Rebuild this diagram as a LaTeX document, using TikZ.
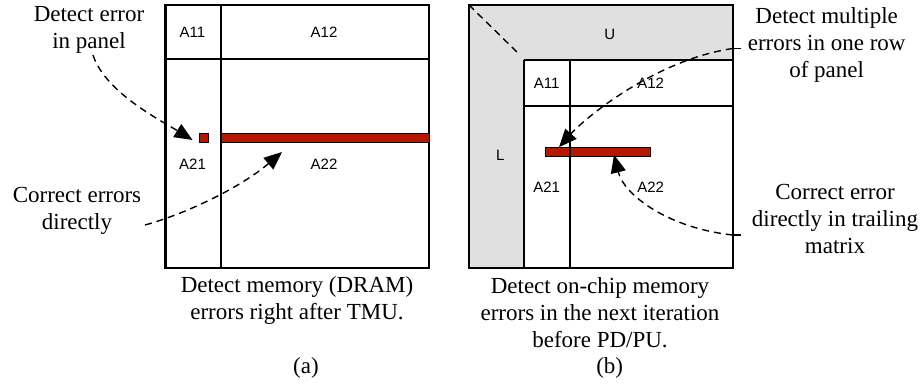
\documentclass[tikz,border=0pt]{standalone}
\usepackage{fontspec}
\setmainfont{Liberation Serif}
\newfontfamily\lblfont{Liberation Sans}
\usetikzlibrary{arrows.meta}
\definecolor{errred}{RGB}{180,24,0}
\definecolor{panelgray}{RGB}{224,224,224}
\tikzset{
  note/.style={inner sep=0pt, align=center, font=\fontsize{23}{27}\selectfont},
  blk/.style={inner sep=0pt, font=\lblfont\fontsize{15}{16}\selectfont},
  outer/.style={line width=2.3pt},
  part/.style={line width=2pt},
  errbox/.style={draw=black, line width=1pt, fill=errred, inner sep=0pt},
  darrow/.style={line width=1.4pt, dash pattern=on 7pt off 5pt, -{Triangle[length=18pt,width=15pt]}},
  tick/.style={line width=1.4pt}
}
\begin{document}
\begin{tikzpicture}[x=1pt,y=-1pt]
\useasboundingbox (0,0) rectangle (922,386);
% ---------------- panel (a)
\draw[outer] (165.5,4.7) rectangle (429,267.7);
\draw[part] (220.5,4.7) -- (220.5,267.7);
\draw[outer] (165.5,59) -- (429,59);
\node[blk] (a11) at (192.5,32) {A11};
\node[blk] (a12) at (324,32.5) {A12};
\node[blk] (a21) at (192.5,164.7) {A21};
\node[blk] (a22) at (324,164.7) {A22};
\node[errbox, minimum width=9.5pt, minimum height=9.5pt] (sqA) at (203.8,138) {};
\node[errbox, minimum width=208pt, minimum height=9pt] (barA) at (325,138) {};
\node[note] (detA) at (89,30) {Detect error\\in panel};
\node[note] (corA) at (77,210.5) {Correct errors\\directly};
\node[note] (capA) at (297,300.5) {Detect memory (DRAM)\\errors right after TMU.};
\node[note] (labA) at (306,368) {(a)};
\coordinate (detAs) at (93,55);
\coordinate (corAs) at (145,225);
\coordinate (tipA2) at (282,152);
\draw[darrow] (detAs) .. controls (105,92) and (160,120) .. ([xshift=-6pt,yshift=-2pt]sqA.west);
\draw[darrow] (corAs) .. controls (185,214) and (240,188) .. (tipA2);
% ---------------- panel (b)
\fill[panelgray] (469,4.7) rectangle (732.7,267.7);
\fill[white] (523.7,59.7) rectangle (732.7,267.7);
\node[errbox, minimum width=104.7pt, minimum height=9pt] (barB) at (598.3,152.2) {};
\draw[outer] (469,4.7) rectangle (732.7,267.7);
\draw[outer] (523.7,59.7) -- (732.7,59.7);
\draw[outer] (523.7,59.7) -- (523.7,267.7);
\draw[part] (570.3,59.7) -- (570.3,267.7);
\draw[part] (523.7,106.3) -- (732.7,106.3);
\node[blk] (u) at (609.7,34.3) {U};
\node[blk] (l) at (500.3,155) {L};
\node[blk] (b11) at (546.7,83.3) {A11};
\node[blk] (b12) at (650.7,83.3) {A12};
\node[blk] (b21) at (546.7,187.7) {A21};
\node[blk] (b22) at (650.7,187.7) {A22};
\coordinate (cornerB) at (469,5);
\coordinate (innerB) at (520,55);
\draw[line width=1.4pt, dash pattern=on 7pt off 5pt] (cornerB) -- (innerB);
\node[note] (detB) at (826.7,45) {Detect multiple\\errors in one row\\of panel};
\node[note] (corB) at (835,218.5) {Correct error\\directly in trailing\\matrix};
\node[note] (capB) at (600,312.5) {Detect on-chip memory\\errors in the next iteration\\before PD/PU.};
\node[note] (labB) at (609.7,368) {(b)};
\coordinate (detBt) at (741,48.5);
\coordinate (detBs) at (732.7,48.5);
\coordinate (corBt) at (741,235);
\coordinate (corBs) at (732.7,235);
\draw[tick] (detBt) -- (detBs);
\draw[tick] (corBt) -- (corBs);
\draw[darrow] (detBs) .. controls (655,60) and (585,118) .. (barB.north west -| 559,0);
\draw[darrow] (corBs) .. controls (668,228) and (624,195) .. ([yshift=2.5pt]barB.south -| 614,0);
\end{tikzpicture}
\end{document}
